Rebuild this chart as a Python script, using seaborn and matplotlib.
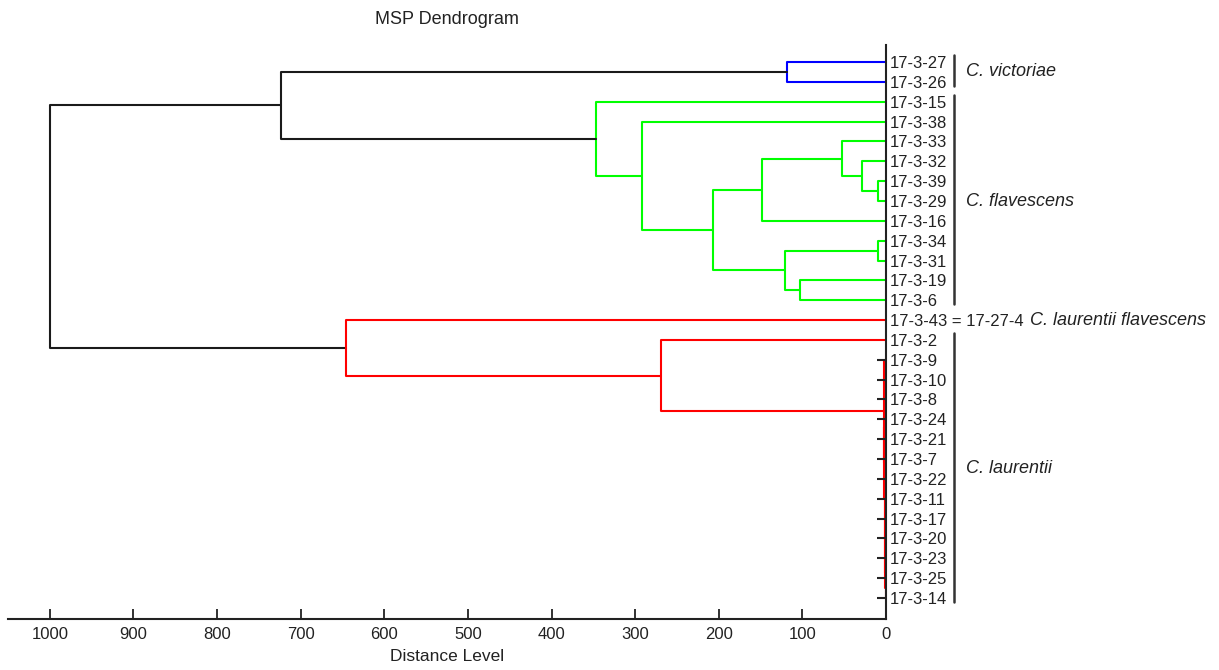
"""
MSP Dendrogram - rebuilt from the published figure.
Tree is drawn from a small merge table (child_a, child_b, distance).
"""

import matplotlib
matplotlib.use("Agg")
import matplotlib.pyplot as plt
import seaborn as sns
import pandas as pd

# Leaves, top to bottom
LEAVES = [
    "17-3-27", "17-3-26", "17-3-15", "17-3-38", "17-3-33", "17-3-32",
    "17-3-39", "17-3-29", "17-3-16", "17-3-34", "17-3-31", "17-3-19",
    "17-3-6", "17-3-43 = 17-27-4", "17-3-2", "17-3-9", "17-3-10", "17-3-8",
    "17-3-24", "17-3-21", "17-3-7", "17-3-22", "17-3-11", "17-3-17",
    "17-3-20", "17-3-23", "17-3-25", "17-3-14",
]

# Clade of each leaf (colours the branches)
CLADE = (["victoriae"] * 2 + ["flavescens"] * 11 + ["laurentii"] * 15)

# Merges: (child a, child b, distance). Children are leaf names or "m<k>"
MERGES = [
    ("17-3-27", "17-3-26", 118),      # m0
    ("17-3-39", "17-3-29", 10),       # m1
    ("17-3-32", "m1", 29),            # m2
    ("17-3-33", "m2", 53),            # m3
    ("m3", "17-3-16", 148),           # m4
    ("17-3-34", "17-3-31", 10),       # m5
    ("17-3-19", "17-3-6", 103),       # m6
    ("m5", "m6", 121),                # m7
    ("m4", "m7", 207),                # m8
    ("17-3-38", "m8", 292),           # m9
    ("17-3-15", "m9", 347),           # m10
    ("m0", "m10", 724),               # m11
    ("17-3-10", "17-3-8", 0.6),       # m12
    ("17-3-21", "17-3-7", 0.6),       # m13
    ("m12", "17-3-24", 0.9),          # m14
    ("m14", "m13", 1.2),              # m15
    ("17-3-25", "17-3-14", 0.5),      # m16
    ("17-3-23", "m16", 0.7),          # m17
    ("17-3-20", "m17", 0.9),          # m18
    ("17-3-17", "m18", 1.1),          # m19
    ("17-3-11", "m19", 1.3),          # m20
    ("17-3-22", "m20", 1.5),          # m21
    ("m15", "m21", 1.8),              # m22
    ("17-3-9", "m22", 2.2),           # m23
    ("17-3-2", "m23", 269),           # m24
    ("17-3-43 = 17-27-4", "m24", 646),  # m25
    ("m11", "m25", 1000),             # m26
]

# Leaves drawn with a short black stub (near-zero branches)
STUB_LEAVES = LEAVES[15:]
STUB_LEN = 11

X_TICKS = list(range(0, 1001, 100))

# Species brackets: (label, first leaf, last leaf)
SPECIES = [
    ("C. victoriae", "17-3-27", "17-3-26"),
    ("C. flavescens", "17-3-15", "17-3-6"),
    ("C. laurentii", "17-3-2", "17-3-14"),
]
SPECIES_SINGLE = ("C. laurentii flavescens", "17-3-43 = 17-27-4")

COLORS = {"victoriae": "#0000FF", "flavescens": "#00FF00",
          "laurentii": "#FF0000", "mixed": "#1a1a1a"}

# ---- build the link paths
pos = {name: (float(i), 0.0, {CLADE[i]}) for i, name in enumerate(LEAVES)}
rows = []
for k, (a, b, h) in enumerate(MERGES):
    ya, ha, ca = pos[a]
    yb, hb, cb = pos[b]
    clades = ca | cb
    clade = next(iter(clades)) if len(clades) == 1 else "mixed"
    for x, y in [(ha, ya), (h, ya), (h, yb), (hb, yb)]:
        rows.append({"link": k, "dist": x, "pos": y, "clade": clade})
    pos[f"m{k}"] = ((ya + yb) / 2, h, clades)
links = pd.DataFrame(rows)

# ---- plot
sns.set_style("white")
plt.rcParams["font.family"] = ["Liberation Sans", "DejaVu Sans"]

fig = plt.figure(figsize=(12.19, 6.70), dpi=100)
ax = fig.add_axes([8 / 1219, 51 / 670, 878 / 1219, 574 / 670])

sns.lineplot(data=links, x="dist", y="pos", units="link", estimator=None,
             sort=False, hue="clade", palette=COLORS, legend=False,
             linewidth=1.5, ax=ax)

stub_y = [LEAVES.index(n) for n in STUB_LEAVES]
ax.hlines(stub_y, 0, STUB_LEN, color="#222222", lw=1.5)

ax.set_xlim(1050, 0)
ax.set_ylim(28.06, -0.86)

ax.set_xticks(X_TICKS)
ax.set_xticklabels([str(t) for t in X_TICKS], fontsize=12, color="#222222")
ax.tick_params(axis="x", direction="in", length=7, width=1.3,
               color="#222222", pad=6, bottom=True)

ax.yaxis.tick_right()
ax.set_yticks(range(len(LEAVES)))
ax.set_yticklabels(LEAVES, fontsize=12, color="#222222")
ax.tick_params(axis="y", length=0, pad=3)

for side in ["left", "top"]:
    ax.spines[side].set_visible(False)
for side in ["bottom", "right"]:
    ax.spines[side].set_color("#222222")
    ax.spines[side].set_linewidth(1.5)

ax.set_xlabel("Distance Level", fontsize=12.5, color="#222222", labelpad=5)
ax.set_ylabel("")
ax.set_title("MSP Dendrogram", fontsize=13, color="#222222", pad=15)

# species brackets and names
tr = ax.get_yaxis_transform()
bx = (954 - 8) / 878
for name, first, last in SPECIES:
    i0, i1 = LEAVES.index(first), LEAVES.index(last)
    ax.plot([bx, bx], [i0 - 0.35, i1 + 0.2], transform=tr, color="#333333",
            lw=1.8, clip_on=False)
    ax.text(bx + 12 / 878, (i0 + i1) / 2, name, transform=tr, fontsize=13,
            style="italic", va="center", ha="left", color="#222222")

name, leaf = SPECIES_SINGLE
ax.text((1030 - 8) / 878, LEAVES.index(leaf), name, transform=tr,
        fontsize=13, style="italic", va="center", ha="left", color="#222222")

fig.savefig("out.png", dpi=100)
